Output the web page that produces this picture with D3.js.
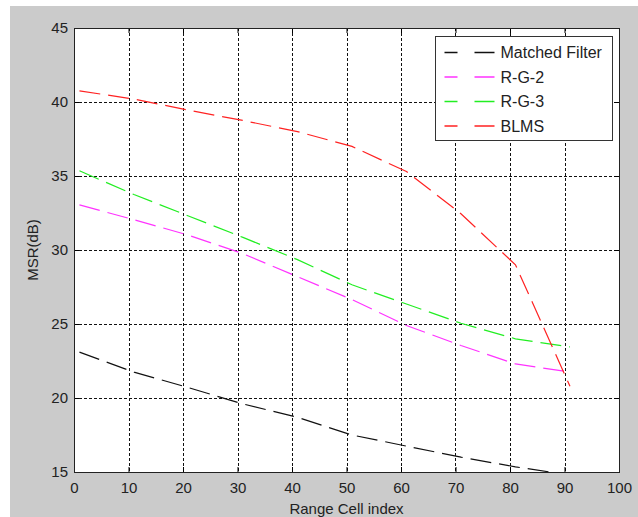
<!DOCTYPE html>
<html>
<head>
<meta charset="utf-8">
<script src="https://cdn.jsdelivr.net/npm/d3@7"></script>
<style>
  body { margin: 0; background: #fff; }
  text { font-family: "Liberation Sans", Arial, sans-serif; fill: #222; }
</style>
</head>
<body>
<svg id="chart" width="638" height="517"></svg>
<script>
// data
const cellIndex = [1, 11, 21, 31, 41, 51, 61, 71, 81, 91];
const matchedFilter = [23.1, 21.75, 20.7, 19.6, 18.7, 17.5, 16.75, 16.0, 15.35, 14.8];
const rg2 = [33.05, 32.05, 31.0, 29.75, 28.2, 26.65, 24.9, 23.55, 22.3, 21.75];
const rg3 = [35.35, 33.75, 32.3, 30.85, 29.35, 27.65, 26.35, 25.05, 24.0, 23.45];
const blms = [40.75, 40.2, 39.45, 38.75, 38.0, 37.0, 35.3, 32.45, 29.0, 20.8];
const xTicks = [0, 10, 20, 30, 40, 50, 60, 70, 80, 90, 100];
const yTicks = [15, 20, 25, 30, 35, 40, 45];
const seriesNames = ['Matched Filter', 'R-G-2', 'R-G-3', 'BLMS'];
const seriesColors = ['#111111', '#ff33ff', '#22ee22', '#ff2222'];

const series = [matchedFilter, rg2, rg3, blms];

const MARGINS = { left: 74, top: 28, right: 638 - 619, bottom: 517 - 472 };
const WIDTH = 638, HEIGHT = 517;

const svg = d3.select('#chart');

// gray figure background
svg.append('rect')
  .attr('x', 10).attr('y', 6)
  .attr('width', WIDTH - 10).attr('height', HEIGHT - 6)
  .attr('fill', '#cbcbcb');

const x = d3.scaleLinear().domain([0, 100]).range([MARGINS.left, WIDTH - MARGINS.right]);
const y = d3.scaleLinear().domain([15, 45]).range([HEIGHT - MARGINS.bottom, MARGINS.top]);

svg.append('rect')
  .attr('x', x(0)).attr('y', y(45))
  .attr('width', x(100) - x(0)).attr('height', y(15) - y(45))
  .attr('fill', '#fff');

svg.append('clipPath').attr('id', 'plotClip')
  .append('rect')
  .attr('x', x(0)).attr('y', y(45))
  .attr('width', x(100) - x(0)).attr('height', y(15) - y(45));

// grid
const grid = svg.append('g');
grid.selectAll('.vgrid')
  .data(xTicks.slice(1, -1))
  .enter()
  .append('line')
  .attr('x1', (d) => Math.round(x(d)) + 0.5).attr('x2', (d) => Math.round(x(d)) + 0.5)
  .attr('y1', y(45)).attr('y2', y(15))
  .attr('stroke', '#111').attr('stroke-dasharray', '3,2');
grid.selectAll('.hgrid')
  .data(yTicks.slice(1, -1))
  .enter()
  .append('line')
  .attr('y1', (d) => Math.round(y(d)) + 0.5).attr('y2', (d) => Math.round(y(d)) + 0.5)
  .attr('x1', x(0)).attr('x2', x(100))
  .attr('stroke', '#111').attr('stroke-dasharray', '3,2');

// series
const line = d3.line()
  .x((d, i) => x(cellIndex[i]))
  .y((d) => y(d));

svg.append('g').attr('clip-path', 'url(#plotClip)')
  .selectAll('.series')
  .data(series)
  .enter()
  .append('path')
  .attr('d', (d) => line(d))
  .attr('fill', 'none')
  .attr('stroke', (d, i) => seriesColors[i])
  .attr('stroke-width', 1.2)
  .attr('stroke-dasharray', '21,8');

// axes (MATLAB style, ticks inward)
svg.append('g')
  .attr('transform', `translate(0, ${y(15)})`)
  .call(d3.axisBottom(x).tickValues(xTicks).tickSize(-5).tickPadding(10).tickSizeOuter(0))
  .call((g) => g.select('.domain').remove())
  .call((g) => g.selectAll('text').style('font-size', '15px').attr('fill', '#222'));

svg.append('g')
  .attr('transform', `translate(${x(0)}, 0)`)
  .call(d3.axisLeft(y).tickValues(yTicks).tickSize(-5).tickPadding(6).tickSizeOuter(0))
  .call((g) => g.select('.domain').remove())
  .call((g) => g.selectAll('text').style('font-size', '15px').attr('fill', '#222'));

svg.append('g')
  .attr('transform', `translate(0, ${y(45)})`)
  .call(d3.axisTop(x).tickValues(xTicks).tickSize(-5).tickFormat('').tickSizeOuter(0))
  .call((g) => g.select('.domain').remove());

svg.append('g')
  .attr('transform', `translate(${x(100)}, 0)`)
  .call(d3.axisRight(y).tickValues(yTicks).tickSize(-5).tickFormat('').tickSizeOuter(0))
  .call((g) => g.select('.domain').remove());

svg.append('rect')
  .attr('x', x(0) + 0.5).attr('y', y(45) + 0.5)
  .attr('width', x(100) - x(0)).attr('height', y(15) - y(45))
  .attr('fill', 'none').attr('stroke', '#222');

// labels
svg.append('text')
  .attr('x', (x(0) + x(100)) / 2).attr('y', 514)
  .attr('text-anchor', 'middle')
  .style('font-size', '15px')
  .text('Range Cell index');

svg.append('text')
  .attr('transform', `translate(38, ${(y(15) + y(45)) / 2}) rotate(-90)`)
  .attr('text-anchor', 'middle')
  .style('font-size', '15px')
  .text('MSR(dB)');

// legend
const legend = svg.append('g').attr('transform', 'translate(435.5, 36.5)');
legend.append('rect')
  .attr('width', 177).attr('height', 104)
  .attr('fill', '#fff').attr('stroke', '#333');

const rows = legend.selectAll('.row')
  .data(seriesNames)
  .enter()
  .append('g')
  .attr('transform', (d, i) => `translate(0, ${16 + i * 24.5})`);

rows.append('line')
  .attr('x1', 9).attr('x2', 59)
  .attr('stroke', (d, i) => seriesColors[i])
  .attr('stroke-width', 1.4)
  .attr('stroke-dasharray', '13,17,20,100');

rows.append('text')
  .attr('x', 65).attr('dy', '0.36em')
  .style('font-size', '16px')
  .text((d) => d);
</script>
</body>
</html>
